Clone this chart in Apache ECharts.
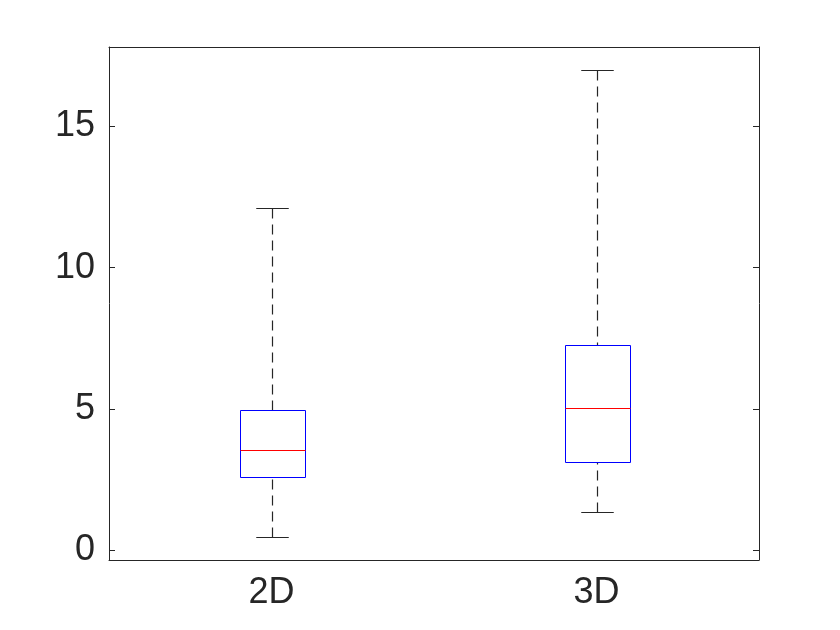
<!DOCTYPE html>
<html>
<head>
<meta charset="utf-8">
<title>boxplot</title>
<script src="https://cdn.jsdelivr.net/npm/echarts@6/dist/echarts.min.js"></script>
<style>
  html, body { margin: 0; padding: 0; background: #fff; }
  #chart { width: 840px; height: 630px; }
</style>
</head>
<body>
<div id="chart"></div>
<script>
// values
var categories = ['2D', '3D'];
var lowerWhisker = [0.47, 1.36];
var q1 = [2.59, 3.13];
var median = [3.54, 5.03];
var q3 = [4.97, 7.26];
var upperWhisker = [12.13, 17.01];

var yMin = -0.34;
var yMax = 17.81;

var axisColor = '#262626';
var fontFamily = '"Liberation Sans", Arial, Helvetica, sans-serif';

var rows = categories.map(function (c, i) {
  return [i, lowerWhisker[i], q1[i], median[i], q3[i], upperWhisker[i]];
});

function px(v) {
  return Math.round(v) + 0.5;
}

function renderBox(params, api) {
  var i = api.value(0);
  var lo = api.coord([i, api.value(1)]);
  var b1 = api.coord([i, api.value(2)]);
  var md = api.coord([i, api.value(3)]);
  var b3 = api.coord([i, api.value(4)]);
  var hi = api.coord([i, api.value(5)]);
  var band = api.size([1, 0])[0];
  var half = band * 0.1;   // box half width
  var cap = band * 0.05;   // whisker cap half width
  var cx = px(lo[0]);

  var dashed = { stroke: '#262626', lineWidth: 1.2, lineDash: [10, 6] };
  var solid = { stroke: '#262626', lineWidth: 1.2 };

  return {
    type: 'group',
    children: [
      { type: 'line', shape: { x1: cx, y1: px(hi[1]), x2: cx, y2: px(b3[1]) }, style: dashed },
      { type: 'line', shape: { x1: cx, y1: px(lo[1]), x2: cx, y2: px(b1[1]) }, style: dashed },
      { type: 'line', shape: { x1: cx - cap, y1: px(hi[1]), x2: cx + cap, y2: px(hi[1]) }, style: solid },
      { type: 'line', shape: { x1: cx - cap, y1: px(lo[1]), x2: cx + cap, y2: px(lo[1]) }, style: solid },
      {
        type: 'rect',
        shape: { x: px(cx - half), y: px(b3[1]), width: Math.round(half * 2), height: Math.round(b1[1] - b3[1]) },
        style: { fill: 'none', stroke: '#0000ff', lineWidth: 1 }
      },
      { type: 'line', shape: { x1: px(cx - half), y1: px(md[1]), x2: px(cx + half), y2: px(md[1]) }, style: { stroke: '#ff0000', lineWidth: 1 } }
    ]
  };
}

var chart = echarts.init(document.getElementById('chart'));

var option = {
  backgroundColor: '#fff',
  animation: false,
  grid: { left: 109, right: 81, top: 47, bottom: 70, containLabel: false },
  xAxis: [
    {
      type: 'category',
      data: categories,
      position: 'bottom',
      boundaryGap: true,
      axisLine: { onZero: false, lineStyle: { color: axisColor, width: 1 } },
      axisTick: { inside: true, alignWithLabel: true, length: 6, lineStyle: { color: axisColor } },
      axisLabel: { color: axisColor, fontSize: 36, fontFamily: fontFamily, margin: 15 },
      splitLine: { show: false }
    },
    {
      type: 'category',
      data: categories,
      position: 'top',
      boundaryGap: true,
      axisLine: { onZero: false, lineStyle: { color: axisColor, width: 1 } },
      axisTick: { inside: true, alignWithLabel: true, length: 6, lineStyle: { color: axisColor } },
      axisLabel: { show: false },
      splitLine: { show: false }
    }
  ],
  yAxis: [
    {
      type: 'value',
      min: yMin,
      max: yMax,
      splitNumber: 4,
      position: 'left',
      axisLine: { show: true, onZero: false, lineStyle: { color: axisColor, width: 1 } },
      axisTick: { show: true, inside: true, length: 6, lineStyle: { color: axisColor } },
      axisLabel: {
        color: axisColor, fontSize: 36, fontFamily: fontFamily, margin: 14,
        showMinLabel: false, showMaxLabel: false
      },
      splitLine: { show: false }
    },
    {
      type: 'value',
      min: yMin,
      max: yMax,
      splitNumber: 4,
      position: 'right',
      axisLine: { show: true, onZero: false, lineStyle: { color: axisColor, width: 1 } },
      axisTick: { show: true, inside: true, length: 6, lineStyle: { color: axisColor } },
      axisLabel: { show: false },
      splitLine: { show: false }
    }
  ],
  series: [
    {
      type: 'custom',
      xAxisIndex: 0,
      yAxisIndex: 0,
      renderItem: renderBox,
      encode: { x: 0, y: [1, 2, 3, 4, 5] },
      data: rows
    }
  ]
};

chart.setOption(option);
</script>
</body>
</html>
